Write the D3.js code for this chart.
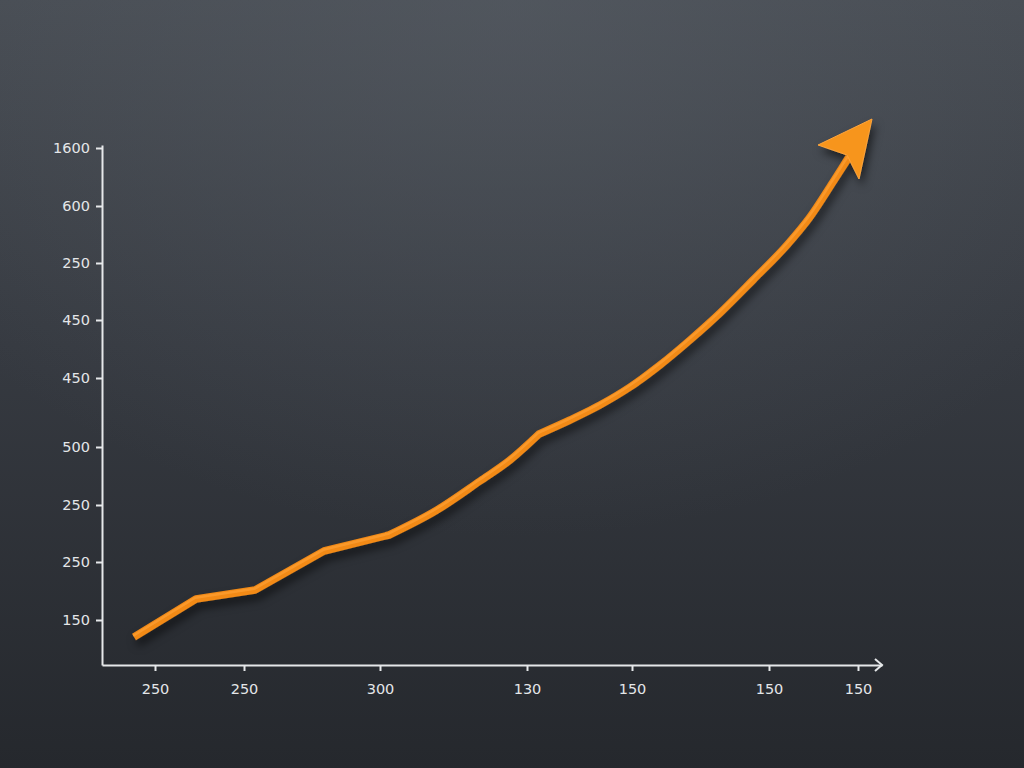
<!DOCTYPE html>
<html>
<head>
<meta charset="utf-8">
<script src="https://cdn.jsdelivr.net/npm/d3@7"></script>
<style>
  html, body { margin: 0; padding: 0; background: #2e3238; }
  svg { display: block; }
</style>
</head>
<body>
<svg id="chart" width="1024" height="768"></svg>
<script>
// ---- data ----
const lineX = [32, 94, 153, 222, 287, 335, 378, 408, 437, 468, 498, 528, 558, 588, 618, 651, 685, 708, 731, 747];
const lineY = [28, 66, 75, 114, 130, 155, 184, 205, 231, 245, 260, 278, 300, 325, 352, 385, 420, 448, 483, 508];
const arrowTip = [770, 546];
// indices where the line has a sharp corner (between them it is smooth)
const cornerIdx = [0, 1, 2, 3, 4, 8, 19];

const yTickValues = [517, 459, 402, 345, 287, 218, 160, 103, 45];
const yTickLabels = ["1600", "600", "250", "450", "450", "500", "250", "250", "150"];
const xTickValues = [53, 142, 278, 425, 530, 667, 756];
const xTickLabels = ["250", "250", "300", "130", "150", "150", "150"];

// ---- setup ----
const svg = d3.select("#chart");
const W = 1024, H = 768;
const defs = svg.append("defs");

const bg = defs.append("linearGradient").attr("id", "bg").attr("x1", 0).attr("y1", 0).attr("x2", 0).attr("y2", 1);
bg.append("stop").attr("offset", "0%").attr("stop-color", "#474c53");
bg.append("stop").attr("offset", "45%").attr("stop-color", "#363a41");
bg.append("stop").attr("offset", "100%").attr("stop-color", "#25282d");

const glow = defs.append("radialGradient").attr("id", "glow").attr("cx", "50%").attr("cy", "0%").attr("r", "70%");
glow.append("stop").attr("offset", "0%").attr("stop-color", "#5a6068").attr("stop-opacity", 0.5);
glow.append("stop").attr("offset", "100%").attr("stop-color", "#5a6068").attr("stop-opacity", 0);

const sh = defs.append("filter").attr("id", "shadow").attr("x", "-20%").attr("y", "-20%").attr("width", "140%").attr("height", "140%");
sh.append("feDropShadow").attr("dx", 3).attr("dy", 6).attr("stdDeviation", 4)
  .attr("flood-color", "#000").attr("flood-opacity", 0.55);

svg.append("rect").attr("width", W).attr("height", H).attr("fill", "url(#bg)");
svg.append("rect").attr("width", W).attr("height", H).attr("fill", "url(#glow)");

const x = d3.scaleLinear().domain([0, 780]).range([102, 882]);
const y = d3.scaleLinear().domain([0, 520]).range([665, 145]);

const axisColor = "#e6e8ea";
const fontFam = "'DejaVu Sans', 'Open Sans', sans-serif";

// y axis
const yAxis = svg.append("g").attr("transform", `translate(${x(0)},0)`)
  .call(d3.axisLeft(y).tickValues(yTickValues).tickSize(6).tickSizeOuter(0).tickPadding(6)
    .tickFormat((d, i) => yTickLabels[i]));
// x axis
const xAxis = svg.append("g").attr("transform", `translate(0,${y(0)})`)
  .call(d3.axisBottom(x).tickValues(xTickValues).tickSize(6).tickSizeOuter(0).tickPadding(13)
    .tickFormat((d, i) => xTickLabels[i]));

[yAxis, xAxis].forEach(g => {
  g.select(".domain").attr("stroke", axisColor).attr("stroke-width", 2);
  g.selectAll(".tick line").attr("stroke", axisColor).attr("stroke-width", 2);
  g.selectAll(".tick text").attr("fill", "#e4e6e8").attr("font-size", 14.5).attr("font-family", fontFam);
});

// x axis arrow chevron
const ax = x(780), ay = y(0);
svg.append("path")
  .attr("d", `M${ax - 7},${ay - 6} L${ax},${ay} L${ax - 7},${ay + 6}`)
  .attr("fill", "none").attr("stroke", axisColor).attr("stroke-width", 2);

// ---- line ----
const pts = lineX.map((d, i) => [d, lineY[i]]);
const seg = d3.line().x(d => x(d[0])).y(d => y(d[1])).curve(d3.curveMonotoneX);
let dStr = "";
for (let k = 0; k < cornerIdx.length - 1; k++) {
  const part = pts.slice(cornerIdx[k], cornerIdx[k + 1] + 1);
  let s = seg(part);
  if (k > 0) s = s.replace(/^M[^LC]*/, "");
  dStr += s;
}

const gLine = svg.append("g").attr("filter", "url(#shadow)");
gLine.append("path").attr("d", dStr)
  .attr("fill", "none").attr("stroke", "#f28a17").attr("stroke-width", 7.5)
  .attr("stroke-linejoin", "round").attr("stroke-linecap", "butt");
gLine.append("path").attr("d", dStr)
  .attr("fill", "none").attr("stroke", "#ffa33a").attr("stroke-width", 2.5)
  .attr("stroke-linejoin", "round").attr("transform", "translate(-0.8,-1.2)").attr("opacity", 0.6);

// arrowhead
const tx = x(arrowTip[0]), ty = y(arrowTip[1]);
const head = [[tx, ty], [tx - 54, ty + 26], [tx - 25, ty + 36], [tx - 13, ty + 60]];
gLine.append("path")
  .attr("d", "M" + head.map(p => p.join(",")).join("L") + "Z")
  .attr("fill", "#f7951f").attr("stroke", "#ffa53a").attr("stroke-width", 1).attr("stroke-linejoin", "round");
</script>
</body>
</html>
